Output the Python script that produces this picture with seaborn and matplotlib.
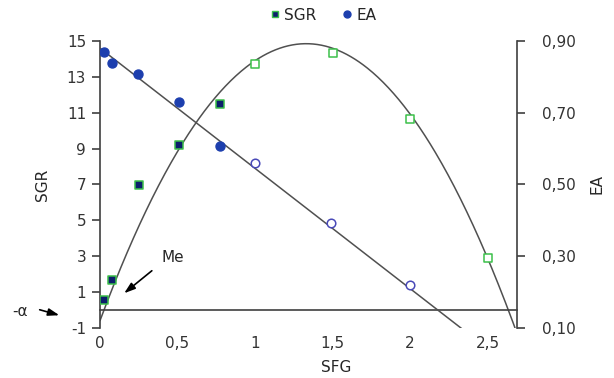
import numpy as np
import pandas as pd
import matplotlib
matplotlib.use("Agg")
import matplotlib.pyplot as plt
from matplotlib.lines import Line2D
import seaborn as sns

# values
sfg_sgr = [0.026, 0.077, 0.25, 0.51, 0.774, 1.0, 1.5, 2.0, 2.5]
sgr = [0.56, 1.67, 6.97, 9.2, 11.5, 13.7, 14.35, 10.65, 2.9]
sgr_open = [False, False, False, False, False, True, True, True, True]

sfg_ea = [0.026, 0.077, 0.245, 0.51, 0.774, 1.0, 1.49, 2.0]
ea = [0.870, 0.838, 0.808, 0.730, 0.607, 0.560, 0.392, 0.220]
ea_open = [False, False, False, False, False, True, True, True]

# trend lines drawn on the chart
sgr_trend = [-8.73, 23.22, -0.59]   # quadratic
ea_trend = [-0.335, 0.88]           # linear

x_ticks = [0, 0.5, 1, 1.5, 2, 2.5]
x_labels = ["0", "0,5", "1", "1,5", "2", "2,5"]
sgr_ticks = [-1, 1, 3, 5, 7, 9, 11, 13, 15]
ea_ticks = [0.10, 0.30, 0.50, 0.70, 0.90]
ea_labels = ["0,10", "0,30", "0,50", "0,70", "0,90"]

sns.set_style("white")
plt.rcParams["font.family"] = ["DejaVu Sans"]
plt.rcParams["font.size"] = 11
plt.rcParams["axes.unicode_minus"] = False

df_sgr = pd.DataFrame({"SFG": sfg_sgr, "SGR": sgr, "open": sgr_open})
df_ea = pd.DataFrame({"SFG": sfg_ea, "EA": ea, "open": ea_open})

dark = "#404040"
navy = "#0b1f6b"
green = "#3cc04a"
blue = "#1d3fae"
purple = "#4a4ab8"

fig = plt.figure(figsize=(6.14, 3.78), dpi=100)
ax = fig.add_axes([100 / 614, 50 / 378, 417 / 614, 287 / 378])
ax2 = ax.twinx()

xmax = 2.69
xs = np.linspace(0, xmax, 400)
sns.lineplot(x=xs, y=np.polyval(sgr_trend, xs), ax=ax, color="#505050", lw=1.1)
sns.lineplot(x=xs, y=np.polyval(ea_trend, xs), ax=ax2, color="#505050", lw=1.1)

filled = df_sgr[~df_sgr["open"]]
hollow = df_sgr[df_sgr["open"]]
sns.scatterplot(data=filled, x="SFG", y="SGR", ax=ax, marker="s", s=30,
                color=navy, edgecolor=green, linewidth=1.1, zorder=5)
sns.scatterplot(data=hollow, x="SFG", y="SGR", ax=ax, marker="s", s=30,
                facecolor="white", edgecolor=green, linewidth=1.1, zorder=5)

filled_e = df_ea[~df_ea["open"]]
hollow_e = df_ea[df_ea["open"]]
sns.scatterplot(data=filled_e, x="SFG", y="EA", ax=ax2, marker="o", s=42,
                color=blue, edgecolor=blue, linewidth=1, zorder=5)
sns.scatterplot(data=hollow_e, x="SFG", y="EA", ax=ax2, marker="o", s=38,
                facecolor="white", edgecolor=purple, linewidth=1.1, zorder=5)

ax.set_xlim(0, xmax)
ax.set_ylim(-1, 15)
ax2.set_ylim(0.1, 0.9)

for s in ["top", "right"]:
    ax.spines[s].set_visible(False)
for s in ["top", "left", "bottom"]:
    ax2.spines[s].set_visible(False)
ax.spines["bottom"].set_position(("data", 0))
for sp in [ax.spines["left"], ax.spines["bottom"], ax2.spines["right"]]:
    sp.set_color(dark)
    sp.set_linewidth(1.2)

ax.set_xticks(x_ticks)
ax.set_xticklabels(x_labels)
ax.set_yticks(sgr_ticks)
ax2.set_yticks(ea_ticks)
ax2.set_yticklabels(ea_labels)
ax.tick_params(axis="x", direction="out", length=6, width=1.2, color=dark,
               pad=13, labelsize=11, labelcolor="#333333")
ax.tick_params(axis="y", direction="out", length=6, width=1.2, color=dark,
               pad=4, labelsize=11, labelcolor="#333333")
ax2.tick_params(axis="y", direction="out", length=6, width=1.2, color=dark,
                pad=12, labelsize=11, labelcolor="#333333")

ax.set_xlabel("")
ax.set_ylabel("SGR", fontsize=11, labelpad=12)
ax2.set_ylabel("EA", fontsize=11, rotation=90, labelpad=10)
fig.text(336 / 614, 1 - 368 / 378, "SFG", ha="center", va="center", fontsize=11)

# annotations
arrow = dict(arrowstyle="-|>,head_length=0.6,head_width=0.2", color="black", lw=1.2)
fig.text(173 / 614, 1 - 257 / 378, "Me", ha="center", va="center", fontsize=11)
ax.annotate("", xy=(122 / 614, 1 - 295 / 378), xytext=(154 / 614, 1 - 269 / 378),
            xycoords="figure fraction", textcoords="figure fraction", arrowprops=arrow)
fig.text(20 / 614, 1 - 312 / 378, "-α", ha="center", va="center", fontsize=11)
ax.annotate("", xy=(62 / 614, 1 - 316 / 378), xytext=(37 / 614, 1 - 309 / 378),
            xycoords="figure fraction", textcoords="figure fraction", arrowprops=arrow)

handles = [
    Line2D([], [], marker="s", ls="", color=navy, markeredgecolor=green,
           markersize=5, markeredgewidth=1.0, label="SGR"),
    Line2D([], [], marker="o", ls="", color=blue, markersize=5, label="EA"),
]
fig.legend(handles=handles, loc="center", bbox_to_anchor=(322 / 614, 1 - 15 / 378),
           ncol=2, frameon=False, fontsize=11, handletextpad=0.1,
           columnspacing=1.5, handlelength=1.0)

fig.savefig("out.png", dpi=100)
